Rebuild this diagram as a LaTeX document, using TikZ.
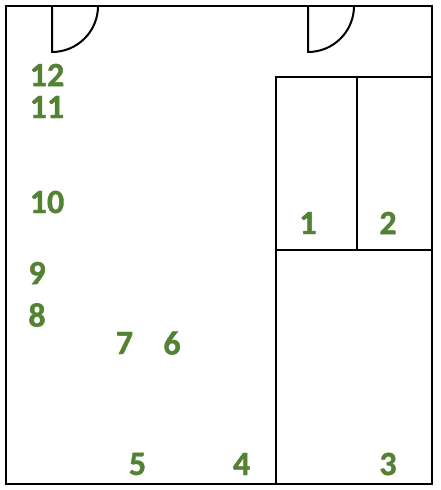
\documentclass[tikz,border=0pt]{standalone}
\usepackage{fontspec}
\setmainfont[BoldFeatures={FakeBold=1.2}]{Carlito}
\definecolor{labelgreen}{RGB}{84,130,53}
\tikzset{
  wall/.style={draw=black,line width=2pt},
  lbl/.style={text=labelgreen,font=\fontsize{34}{34}\selectfont\bfseries,inner sep=0pt,anchor=center}
}
\begin{document}
\begin{tikzpicture}[x=1pt,y=-1pt]
\useasboundingbox (0,0) rectangle (440,490);
\fill[white] (0,0) rectangle (440,490);
\draw[wall] (6,6) rectangle (432,484);
% doors
\draw[wall,line join=round] (98,6) arc[start angle=0,end angle=90,radius=46] -- (52,6);
\draw[wall,line join=round] (354,6) arc[start angle=0,end angle=90,radius=46] -- (308,6);
% rooms
\draw[wall] (432,77) -- (276,77) -- (276,484);
\draw[wall] (357,77) -- (357,250);
\draw[wall] (276,250) -- (432,250);
% labels
\node[lbl] (n12) at (47,75) {12};
\node[lbl] (n11) at (47,107) {11};
\node[lbl] (n10) at (47,202) {10};
\node[lbl] (n9) at (37,273) {9};
\node[lbl] (n8) at (37,315) {8};
\node[lbl] (n7) at (124.5,343) {7};
\node[lbl] (n6) at (172,343) {6};
\node[lbl] (n5) at (137.5,464) {5};
\node[lbl] (n4) at (241.5,464) {4};
\node[lbl] (n3) at (388,464) {3};
\node[lbl] (n2) at (388,223) {2};
\node[lbl] (n1) at (308,223) {1};
\end{tikzpicture}
\end{document}
